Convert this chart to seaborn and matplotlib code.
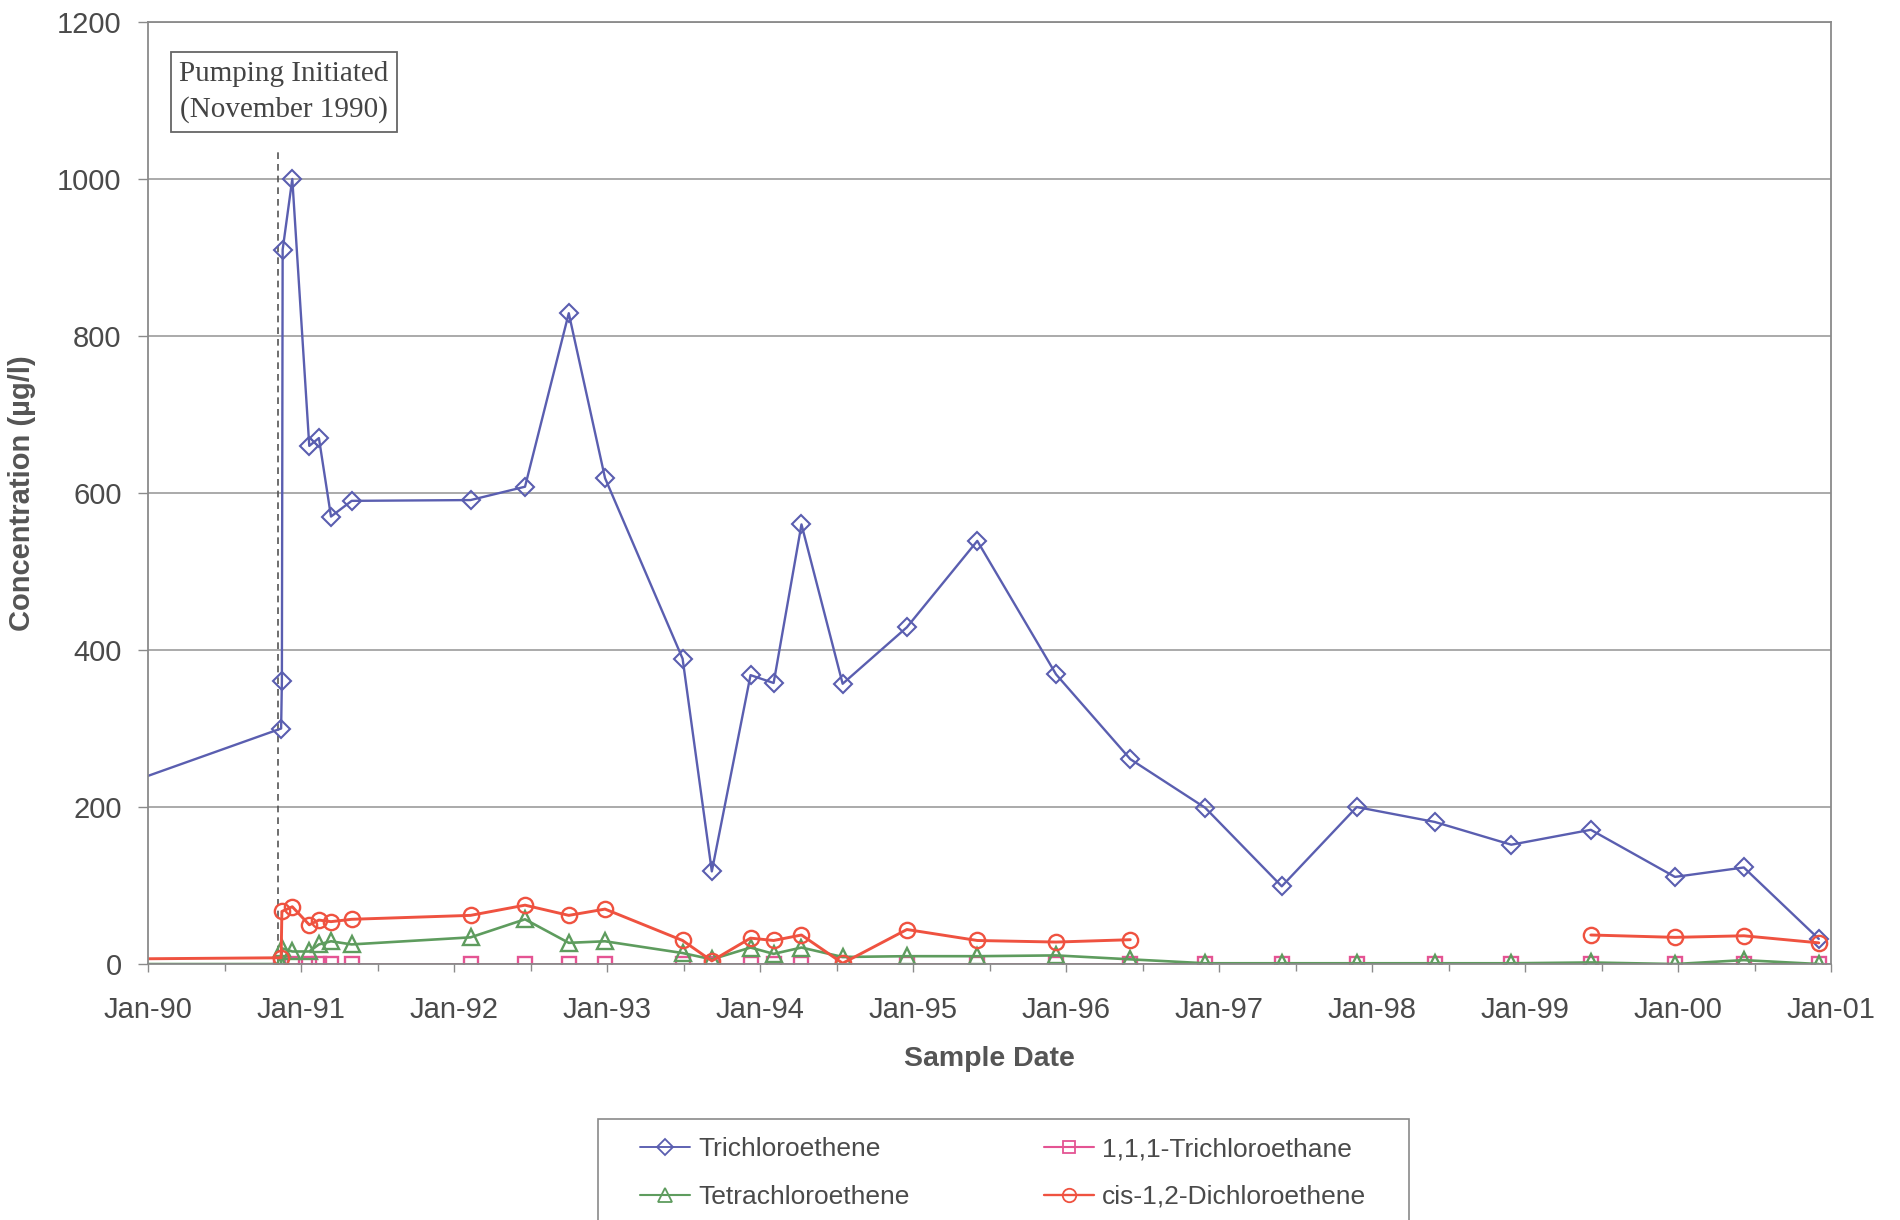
import numpy as np
import pandas as pd
import matplotlib
matplotlib.use("Agg")
import matplotlib.pyplot as plt
import seaborn as sns
from matplotlib.lines import Line2D
from matplotlib.patches import Rectangle
from matplotlib.ticker import FixedLocator

# ---------------- data (decimal years, ug/l) ----------------
tce_dates = [1989.5, 1990.870, 1990.875, 1990.880, 1990.943, 1991.054, 1991.117,
             1991.196, 1991.331, 1992.108, 1992.464, 1992.750, 1992.987, 1993.494,
             1993.685, 1993.938, 1994.089, 1994.271, 1994.540, 1994.960, 1995.420,
             1995.935, 1996.420, 1996.910, 1997.410, 1997.900, 1998.410, 1998.910,
             1999.430, 1999.980, 2000.430, 2000.920]
tce_vals = [205, 300, 360, 910, 1000, 660, 670,
            570, 590, 591, 608, 829, 619, 389,
            118, 368, 358, 560, 357, 429, 539,
            369, 261, 199, 99, 200, 181, 152,
            171, 111, 123, 32]

tca_dates = [1989.5, 1990.870, 1990.943, 1991.054, 1991.117, 1991.196, 1991.331,
             1992.108, 1992.464, 1992.750, 1992.987, 1993.494, 1993.685, 1993.938,
             1994.089, 1994.271, 1994.540, 1994.960, 1995.420, 1995.935, 1996.420,
             1996.910, 1997.410, 1997.900, 1998.410, 1998.910, 1999.430, 1999.980,
             2000.430, 2000.920]
tca_vals = [0, 0, 0, 0, 0, 0, 0,
            0, 0, 0, 0, 0, 0, 0,
            0, 0, 0, 0, 0, 0, 0,
            0, 0, 0, 0, 0, 0, 0,
            0, 0]

pce_dates = [1989.5, 1990.870, 1990.875, 1990.943, 1991.054, 1991.117, 1991.196,
             1991.331, 1992.108, 1992.464, 1992.750, 1992.987, 1993.494, 1993.685,
             1993.938, 1994.089, 1994.271, 1994.540, 1994.960, 1995.420, 1995.935,
             1996.420, 1996.910, 1997.410, 1997.900, 1998.410, 1998.910, 1999.430,
             1999.980, 2000.430, 2000.920]
pce_vals = [0, 0, 20, 16, 16, 25, 29,
            25, 34, 57, 27, 29, 14, 6,
            21, 13, 21, 9, 10, 10, 11,
            6, 1, 1, 1, 1, 1, 2,
            0, 5, 0]

dce_dates = [1989.5, 1990.870, 1990.875, 1990.943, 1991.054, 1991.117, 1991.196,
             1991.331, 1992.108, 1992.464, 1992.750, 1992.987, 1993.494, 1993.685,
             1993.938, 1994.089, 1994.271, 1994.540, 1994.960, 1995.420, 1995.935,
             1996.420, 1997.5, 1999.430, 1999.980, 2000.430, 2000.920]
dce_vals = [6, 8, 67, 73, 50, 56, 54,
            57, 62, 75, 62, 70, 30, 4,
            33, 30, 37, 1, 44, 30, 28,
            31, np.nan, 37, 34, 36, 27]

series_names = ["Trichloroethene", "1,1,1-Trichloroethane",
                "Tetrachloroethene", "cis-1,2-Dichloroethene"]
year_ticks = [1990, 1991, 1992, 1993, 1994, 1995, 1996, 1997, 1998, 1999, 2000, 2001]
year_labels = ["Jan-90", "Jan-91", "Jan-92", "Jan-93", "Jan-94", "Jan-95",
               "Jan-96", "Jan-97", "Jan-98", "Jan-99", "Jan-00", "Jan-01"]
y_ticks = [0, 200, 400, 600, 800, 1000, 1200]
pump_date = 1990.85
pump_line_top = 1035
annotation_text = "Pumping Initiated\n(November 1990)"

# ---------------- styling ----------------
sns.set_theme(style="white")
plt.rcParams["font.family"] = ["Liberation Sans", "DejaVu Sans"]

colors = {
    "Trichloroethene": "#5a5eb0",
    "1,1,1-Trichloroethane": "#e45493",
    "Tetrachloroethene": "#5e9c5e",
    "cis-1,2-Dichloroethene": "#ef5240",
}
markers = {
    "Trichloroethene": ("D", 9.0, 1.5),
    "1,1,1-Trichloroethane": ("s", 10.5, 1.7),
    "Tetrachloroethene": ("^", 11.5, 1.7),
    "cis-1,2-Dichloroethene": ("o", 11.0, 1.7),
}
line_w = {
    "Trichloroethene": 1.7,
    "1,1,1-Trichloroethane": 1.9,
    "Tetrachloroethene": 1.9,
    "cis-1,2-Dichloroethene": 2.1,
}

fig = plt.figure(figsize=(19, 12.2), dpi=100)
ax = fig.add_axes([0.0779, 0.2098, 0.8858, 0.7722])

frames = {
    "Trichloroethene": pd.DataFrame({"date": tce_dates, "conc": tce_vals}),
    "1,1,1-Trichloroethane": pd.DataFrame({"date": tca_dates, "conc": tca_vals}),
    "Tetrachloroethene": pd.DataFrame({"date": pce_dates, "conc": pce_vals}),
    "cis-1,2-Dichloroethene": pd.DataFrame({"date": dce_dates, "conc": dce_vals}),
}

handles = {}
for name in series_names:
    df = frames[name].copy()
    df["seg"] = df["conc"].isna().cumsum()
    df = df.dropna()
    m, ms, mew = markers[name]
    c = colors[name]
    sns.lineplot(data=df, x="date", y="conc", units="seg", estimator=None,
                 sort=False, ax=ax, color=c, linewidth=line_w[name],
                 marker=m, markersize=ms, markerfacecolor="none",
                 markeredgecolor=c, markeredgewidth=mew, legend=False,
                 clip_on=True)
    handles[name] = Line2D([], [], color=c, linewidth=line_w[name] * 0.8,
                           marker=m, markersize=ms * 0.88,
                           markerfacecolor="none", markeredgecolor=c,
                           markeredgewidth=1.3)

# pumping start line
ax.vlines(pump_date, 0, pump_line_top, colors="#555555", linestyles=(0, (4, 3)),
          linewidth=1.2, zorder=1)

ax.text(0.0808, 0.926, annotation_text, transform=ax.transAxes,
        ha="center", va="center", multialignment="center",
        family=["Liberation Serif", "DejaVu Serif"], fontsize=21,
        color="#444444", linespacing=1.45,
        bbox=dict(boxstyle="square,pad=0.3", facecolor="white",
                  edgecolor="#666666", linewidth=1.3))

# axes
ax.set_xlim(year_ticks[0], year_ticks[-1])
ax.set_ylim(y_ticks[0], y_ticks[-1])
ax.xaxis.set_major_locator(FixedLocator(year_ticks))
ax.set_xticklabels(year_labels)
ax.xaxis.set_minor_locator(FixedLocator([y + 0.5 for y in year_ticks[:-1]]))
ax.set_yticks(y_ticks)
ax.set_yticklabels([str(v) for v in y_ticks])

ax.grid(axis="y", color="#939393", linewidth=1.1)
ax.grid(axis="x", visible=False)
for sp in ax.spines.values():
    sp.set_visible(True)
    sp.set_color("#8a8a8a")
    sp.set_linewidth(1.3)

ax.tick_params(axis="x", which="major", direction="out", length=6, width=1,
               color="#8a8a8a", labelsize=21, labelcolor="#4a4a4a", pad=17,
               bottom=True)
ax.tick_params(axis="x", which="minor", direction="out", length=5, width=1,
               color="#8a8a8a", bottom=True)
ax.tick_params(axis="y", which="major", direction="out", length=7, width=1,
               color="#8a8a8a", labelsize=21, labelcolor="#4a4a4a", pad=12,
               left=True)

ax.set_xlabel("Sample Date", fontsize=20.5, fontweight="bold", color="#555555")
ax.set_ylabel("Concentration (µg/l)", fontsize=21, fontweight="bold",
              color="#555555",
              family=["Liberation Sans Narrow", "Liberation Sans", "DejaVu Sans"])
ax.xaxis.set_label_coords(0.5, -0.087)
ax.yaxis.set_label_coords(-0.0666, 0.5)

order = ["Trichloroethene", "Tetrachloroethene",
         "1,1,1-Trichloroethane", "cis-1,2-Dichloroethene"]
leg = fig.legend([handles[n] for n in order], order, ncol=2,
                 loc="upper center", bbox_to_anchor=(0.528, 0.083),
                 fontsize=19, frameon=False, handlelength=1.9,
                 handletextpad=0.3, columnspacing=5.1, labelspacing=0.9,
                 borderpad=0.7, borderaxespad=0)
for t in leg.get_texts():
    t.set_color("#4a4a4a")

# legend frame with wider horizontal padding, as in the reference
fig.canvas.draw()
bb = leg.get_window_extent().transformed(fig.transFigure.inverted())
extra_x = 24 / 1900
fig.patches.append(Rectangle((bb.x0 - extra_x, bb.y0), bb.width + 2 * extra_x,
                             bb.height, transform=fig.transFigure,
                             facecolor="none", edgecolor="#8a8a8a",
                             linewidth=1.2, zorder=0))

fig.savefig("out.png", dpi=100, facecolor="white")
